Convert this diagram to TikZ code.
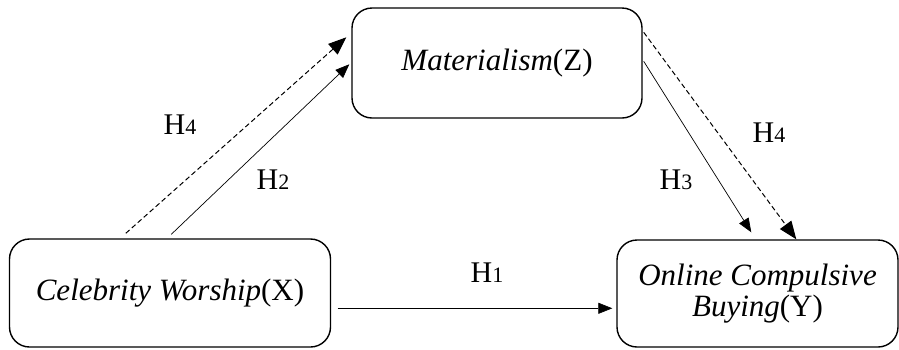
\documentclass[tikz,border=0pt]{standalone}
\usepackage{fontspec}
\setmainfont{Liberation Serif}[ItalicFont={Liberation Serif Italic}]
\usetikzlibrary{arrows.meta}
\newcommand\hyplab[1]{H{\fontsize{22}{22}\selectfont #1}}
\begin{document}
\begin{tikzpicture}[x=1pt,y=-1pt,
  box/.style={draw,line width=1.4pt,rounded corners=20pt,align=center,inner sep=0pt,font=\fontsize{31}{31}\selectfont},
  hyp/.style={inner sep=0pt,font=\fontsize{30}{34}\selectfont},
  link/.style={line width=0.7pt,-{Triangle[length=14pt,width=11pt]}},
  mlink/.style={line width=1pt,dash pattern=on 5pt off 3pt,-{Triangle[length=18pt,width=14pt]}}]
\useasboundingbox (0,0) rectangle (899,349);
\node[box,minimum width=290pt,minimum height=110pt] (z) at (497,63) {\textit{Materialism}(Z)};
\node[box,minimum width=321pt,minimum height=108pt] (cw) at (170,293) {\textit{Celebrity Worship}(X)};
\node[box,minimum width=281pt,minimum height=107pt] (om) at (757.5,293.5) {\textit{Online Compulsive}\\\textit{Buying}(Y)};
\draw[mlink] ([shift={(117,-5)}]cw.north west) -- ([shift={(-5,30)}]z.north west);
\draw[link] ([shift={(162.5,-4)}]cw.north west) -- ([shift={(-2,57)}]z.north west);
\draw[link] ([shift={(1,54)}]z.north east) -- ([shift={(135,-7)}]om.north west);
\draw[mlink] ([shift={(1,25)}]z.north east) -- ([shift={(180,0)}]om.north west);
\draw[link] ([shift={(6.5,70)}]cw.north east) -- ([shift={(-4,69)}]om.north west);
\node[hyp] (h4a) at (180,125) {\hyplab{4}};
\node[hyp] (h2) at (273,180) {\hyplab{2}};
\node[hyp] (h4b) at (769,133) {\hyplab{4}};
\node[hyp] (h3) at (676,180) {\hyplab{3}};
\node[hyp] (h1) at (487,273) {\hyplab{1}};
\end{tikzpicture}
\end{document}
